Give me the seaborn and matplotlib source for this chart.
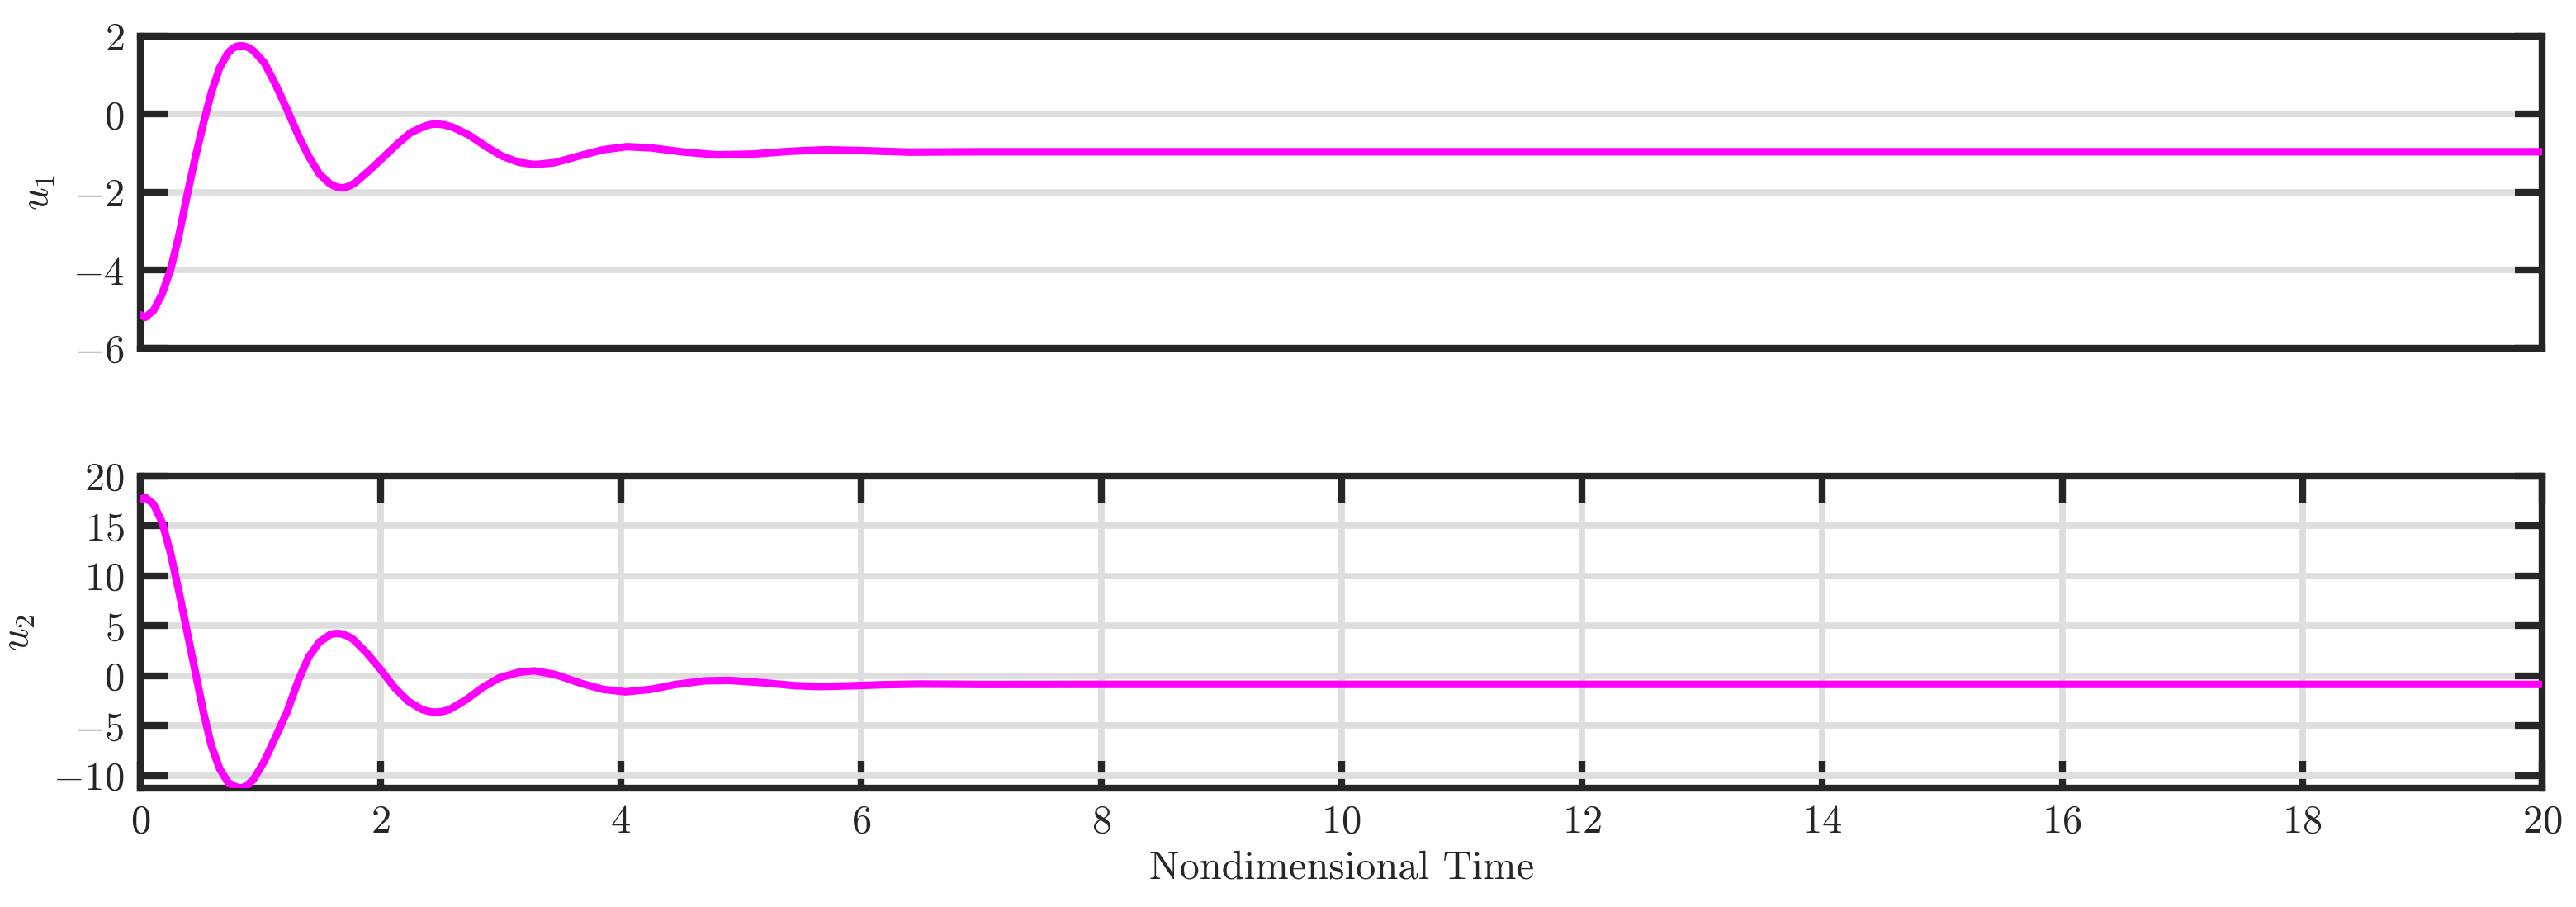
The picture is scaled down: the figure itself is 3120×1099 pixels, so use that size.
import numpy as np
import pandas as pd
import matplotlib
matplotlib.use("Agg")
import matplotlib.pyplot as plt
import seaborn as sns

# values (nondimensional time, control inputs)
t_u1 = [0.00, 0.04, 0.11, 0.18, 0.25, 0.32, 0.39, 0.46, 0.525, 0.59, 0.66, 0.73,
        0.77, 0.80, 0.83, 0.86, 0.90, 0.94, 1.03, 1.12, 1.22, 1.31, 1.40, 1.49,
        1.585, 1.64, 1.69, 1.74, 1.79, 1.91, 2.02, 2.14, 2.25, 2.37, 2.42, 2.47,
        2.53, 2.60, 2.74, 2.88, 3.01, 3.15, 3.28, 3.45, 3.65, 3.85, 4.05, 4.25,
        4.50, 4.80, 5.10, 5.40, 5.70, 6.00, 6.40, 7.00, 8.00, 10.0, 20.0]
u1 = [-5.14, -5.21, -5.03, -4.61, -4.00, -3.12, -2.06, -1.07, -0.23, 0.55, 1.19, 1.58,
      1.69, 1.74, 1.755, 1.75, 1.71, 1.63, 1.33, 0.80, 0.13, -0.51, -1.07, -1.53,
      -1.80, -1.87, -1.89, -1.84, -1.75, -1.43, -1.11, -0.76, -0.47, -0.30, -0.26, -0.25,
      -0.27, -0.33, -0.54, -0.83, -1.07, -1.23, -1.29, -1.24, -1.07, -0.91, -0.83, -0.86,
      -0.96, -1.04, -1.02, -0.95, -0.91, -0.93, -0.97, -0.96, -0.96, -0.96, -0.96]

t_u2 = [0.00, 0.04, 0.11, 0.18, 0.25, 0.32, 0.39, 0.46, 0.525, 0.59, 0.66, 0.73,
        0.79, 0.82, 0.85, 0.88, 0.94, 1.03, 1.12, 1.22, 1.31, 1.40, 1.49, 1.585,
        1.63, 1.67, 1.72, 1.77, 1.885, 2.00, 2.115, 2.23, 2.345, 2.40, 2.46, 2.52,
        2.575, 2.71, 2.85, 2.99, 3.15, 3.28, 3.45, 3.67, 3.85, 4.04, 4.25, 4.46,
        4.70, 4.90, 5.20, 5.45, 5.65, 5.90, 6.20, 6.50, 7.00, 8.00, 20.0]
u2 = [17.66, 17.88, 17.19, 15.4, 12.36, 8.5, 4.36, 0.22, -3.64, -6.95, -9.3, -10.68,
      -11.1, -11.2, -11.2, -11.05, -10.4, -8.6, -6.26, -3.64, -0.6, 1.88, 3.39, 4.17,
      4.24, 4.22, 4.02, 3.67, 2.29, 0.63, -1.16, -2.54, -3.37, -3.56, -3.64, -3.56,
      -3.37, -2.4, -1.16, -0.19, 0.36, 0.5, 0.15, -0.75, -1.35, -1.6, -1.35, -0.85,
      -0.5, -0.45, -0.7, -0.98, -1.07, -1.0, -0.88, -0.82, -0.86, -0.85, -0.85]

x_ticks = list(range(0, 21, 2))
u1_ticks = [-6, -4, -2, 0, 2]
u2_ticks = [-10, -5, 0, 5, 10, 15, 20]

sns.set_theme(style="white")
plt.rcParams["font.family"] = ["cmr10", "DejaVu Serif"]
plt.rcParams["mathtext.fontset"] = "cm"
plt.rcParams["axes.formatter.use_mathtext"] = True
plt.rcParams["axes.unicode_minus"] = True

DARK = "#262626"
GRID = "#dedede"
MAGENTA = "#ff00ff"
FS = 17.5

fig, (ax1, ax2) = plt.subplots(2, 1, figsize=(15.6, 5.495), dpi=200)
fig.subplots_adjust(left=0.0545, right=0.987, top=0.960, bottom=0.131, hspace=0.41)

df1 = pd.DataFrame({"t": t_u1, "u1": u1})
df2 = pd.DataFrame({"t": t_u2, "u2": u2})
sns.lineplot(data=df1, x="t", y="u1", ax=ax1, color=MAGENTA, lw=3.3, zorder=3)
sns.lineplot(data=df2, x="t", y="u2", ax=ax2, color=MAGENTA, lw=3.3, zorder=3)

for ax in (ax1, ax2):
    ax.set_xlim(0, 20)
    ax.set_xticks(x_ticks)
    for s in ax.spines.values():
        s.set_visible(True)
        s.set_color(DARK)
        s.set_linewidth(3.0)
    ax.tick_params(axis="both", direction="in", length=12, width=3.0, color=DARK,
                   labelsize=FS, labelcolor=DARK, pad=7)
    ax.tick_params(axis="y", left=True, right=True)
    ax.set_axisbelow(True)

ax1.set_ylim(-6, 2)
ax1.set_yticks(u1_ticks)
ax1.tick_params(axis="x", bottom=False, top=False, labelbottom=False)
ax1.grid(axis="y", color=GRID, lw=2.8)
ax1.grid(axis="x", visible=False)
ax1.set_xlabel("")
ax1.set_ylabel(r"$u_1$", fontsize=FS, color=DARK, labelpad=7)

ax2.set_ylim(-11.25, 20)
ax2.set_yticks(u2_ticks)
ax2.tick_params(axis="x", bottom=True, top=True)
ax2.grid(True, color=GRID, lw=2.8)
ax2.set_xlabel("Nondimensional Time", fontsize=FS, color=DARK, labelpad=4)
ax2.set_ylabel(r"$u_2$", fontsize=FS, color=DARK, labelpad=7)

fig.savefig("out.png", dpi=200)
